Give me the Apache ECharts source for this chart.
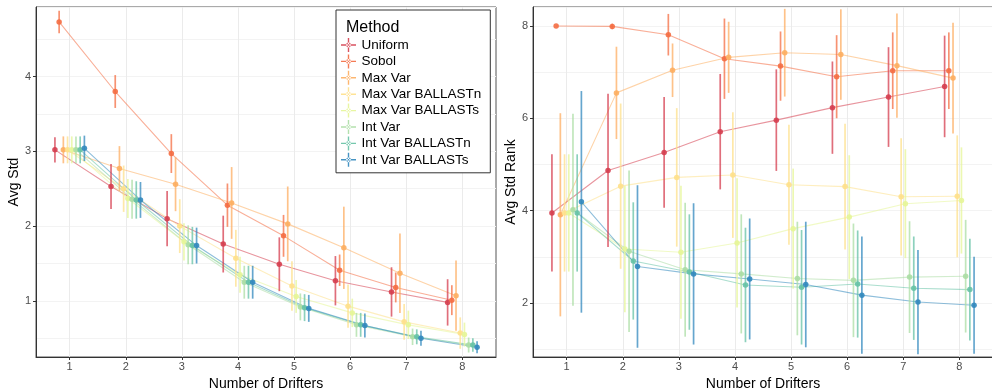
<!DOCTYPE html>
<html>
<head>
<meta charset="utf-8">
<script src="https://cdn.jsdelivr.net/npm/echarts@6/dist/echarts.min.js"></script>
<style>
  html, body { margin: 0; padding: 0; background: #fff; }
  #chart { width: 992px; height: 390px; }
</style>
</head>
<body>
<div id="chart"></div>
<script>
const drifters = [1, 2, 3, 4, 5, 6, 7, 8];
const methods = ['Uniform', 'Sobol', 'Max Var', 'Max Var BALLASTn', 'Max Var BALLASTs',
  'Int Var', 'Int Var BALLASTn', 'Int Var BALLASTs'];

// left panel: mean of Avg Std and half-length of the error bar, one row per method
const avgStd = [
  [3.02, 2.53, 2.10, 1.76, 1.49, 1.27, 1.12, 0.98],
  [4.73, 3.80, 2.97, 2.28, 1.87, 1.41, 1.18, 1.01],
  [3.02, 2.77, 2.56, 2.31, 2.03, 1.71, 1.37, 1.07],
  [3.02, 2.50, 2.00, 1.57, 1.20, 0.93, 0.72, 0.57],
  [3.02, 2.37, 1.79, 1.35, 1.06, 0.84, 0.68, 0.55],
  [3.02, 2.36, 1.75, 1.25, 0.92, 0.68, 0.52, 0.41],
  [3.02, 2.35, 1.74, 1.25, 0.91, 0.68, 0.52, 0.41],
  [3.04, 2.35, 1.74, 1.25, 0.90, 0.67, 0.50, 0.38]
];
const avgStdErr = [
  [0.17, 0.30, 0.37, 0.38, 0.36, 0.33, 0.33, 0.31],
  [0.15, 0.22, 0.26, 0.29, 0.28, 0.21, 0.20, 0.20],
  [0.18, 0.30, 0.36, 0.48, 0.50, 0.55, 0.53, 0.47],
  [0.18, 0.31, 0.36, 0.38, 0.33, 0.29, 0.24, 0.21],
  [0.18, 0.26, 0.25, 0.24, 0.22, 0.19, 0.19, 0.16],
  [0.18, 0.26, 0.26, 0.22, 0.18, 0.16, 0.11, 0.10],
  [0.18, 0.25, 0.25, 0.22, 0.18, 0.16, 0.10, 0.09],
  [0.17, 0.24, 0.24, 0.22, 0.18, 0.16, 0.10, 0.08]
];

// right panel: mean of Avg Std Rank and half-length of the error bar
const avgRank = [
  [3.95, 4.87, 5.26, 5.71, 5.96, 6.23, 6.46, 6.69],
  [8.00, 7.99, 7.81, 7.29, 7.13, 6.90, 7.03, 7.03],
  [3.91, 6.55, 7.04, 7.32, 7.42, 7.38, 7.14, 6.87],
  [3.95, 4.53, 4.72, 4.77, 4.56, 4.52, 4.30, 4.31],
  [3.95, 3.17, 3.10, 3.30, 3.61, 3.86, 4.15, 4.22],
  [4.02, 3.12, 2.72, 2.63, 2.53, 2.49, 2.56, 2.58],
  [3.95, 2.91, 2.67, 2.39, 2.34, 2.41, 2.32, 2.29],
  [4.19, 2.79, 2.63, 2.52, 2.40, 2.17, 2.02, 1.95]
];
const avgRankErr = [
  [1.27, 1.66, 1.20, 1.25, 1.10, 1.00, 1.08, 1.10],
  [0.00, 0.06, 0.45, 0.87, 0.75, 0.90, 0.83, 0.83],
  [2.20, 1.00, 0.58, 0.77, 0.95, 0.98, 1.13, 1.20],
  [1.27, 1.79, 1.50, 1.36, 1.30, 1.36, 1.27, 1.32],
  [1.27, 1.37, 1.44, 1.40, 1.30, 1.34, 1.18, 1.15],
  [2.08, 1.75, 1.45, 1.29, 1.23, 1.23, 1.21, 1.22],
  [1.27, 1.27, 1.25, 1.24, 1.24, 1.16, 1.12, 1.10],
  [2.40, 1.76, 1.53, 1.31, 1.36, 1.27, 1.13, 1.05]
];

const stdTicks = [1, 2, 3, 4];
const rankTicks = [2, 4, 6, 8];

const palette = ['#D53E4F', '#F46D43', '#FDAE61', '#FEE08B', '#E6F598', '#ABDDA4', '#66C2A5', '#3288BD'];
const font = "'Liberation Sans', Arial, Helvetica, sans-serif";

function rgba(hex, a) {
  const n = parseInt(hex.slice(1), 16);
  return 'rgba(' + (n >> 16) + ',' + ((n >> 8) & 255) + ',' + (n & 255) + ',' + a + ')';
}

// dodge offset of each method around the integer x position
function dodge(i) {
  return (i - 3.5) * 0.075;
}

function renderBar(params, api) {
  const lo = api.coord([api.value(0), api.value(1)]);
  const hi = api.coord([api.value(0), api.value(2)]);
  return {
    type: 'line',
    shape: { x1: lo[0], y1: lo[1], x2: hi[0], y2: hi[1] },
    style: { stroke: api.visual('color'), lineWidth: 1.7 }
  };
}

const series = [];
function addPanel(panel, means, errs) {
  methods.forEach((m, i) => {
    const c = palette[i];
    const pts = drifters.map((d, j) => [d + dodge(i), means[i][j]]);
    series.push({
      name: m + ' line', type: 'line', xAxisIndex: panel, yAxisIndex: panel * 2,
      data: pts, symbol: 'none',
      lineStyle: { color: rgba(c, 0.55), width: 1.1 }, z: 1, silent: true, animation: false
    });
    series.push({
      name: m + ' bar', type: 'custom', xAxisIndex: panel, yAxisIndex: panel * 2,
      data: drifters.map((d, j) => [d + dodge(i), means[i][j] - errs[i][j], means[i][j] + errs[i][j]]),
      encode: { x: 0, y: [1, 2] }, renderItem: renderBar, clip: true,
      itemStyle: { color: rgba(c, 0.75) }, z: 2, silent: true, animation: false
    });
    series.push({
      name: m, type: 'scatter', xAxisIndex: panel, yAxisIndex: panel * 2,
      data: pts, symbolSize: 5.5, itemStyle: { color: c, opacity: 0.9 },
      z: 3, silent: true, animation: false
    });
  });
}
addPanel(0, avgStd, avgStdErr);
addPanel(1, avgRank, avgRankErr);

function xAxisFor(grid) {
  return {
    type: 'value', gridIndex: grid, min: 0.4, max: 8.6,
    name: 'Number of Drifters', nameLocation: 'middle', nameGap: 16,
    nameTextStyle: { fontSize: 14, color: '#000', fontFamily: font },
    axisLine: { show: true, onZero: false, lineStyle: { color: '#333', width: 1 } },
    axisTick: { show: true, customValues: drifters, length: 3, lineStyle: { color: '#333' } },
    axisLabel: { customValues: drifters, fontSize: 11, color: '#4d4d4d', margin: 4, fontFamily: font },
    splitLine: { show: true, lineStyle: { color: '#ebebeb', width: 1 } }
  };
}

function yAxisFor(grid, min, max, ticks, name, gap) {
  return {
    type: 'value', gridIndex: grid, min: min, max: max,
    name: name, nameLocation: 'middle', nameGap: gap,
    nameTextStyle: { fontSize: 14, color: '#000', fontFamily: font },
    axisLine: { show: true, onZero: false, lineStyle: { color: '#333', width: 1 } },
    axisTick: { show: true, customValues: ticks, length: 3, lineStyle: { color: '#333' } },
    axisLabel: { customValues: ticks, fontSize: 11, color: '#4d4d4d', margin: 5, fontFamily: font },
    splitLine: { show: true, lineStyle: { color: '#ebebeb', width: 1 } }
  };
}

// second axis on each grid only draws the minor grid lines
function minorAxisFor(grid, min, max, splitNumber) {
  return {
    type: 'value', gridIndex: grid, min: min, max: max, splitNumber: splitNumber,
    position: 'left', axisLine: { show: false }, axisTick: { show: false },
    axisLabel: { show: false },
    splitLine: { show: true, lineStyle: { color: '#f3f3f3', width: 1 } }
  };
}

const legendIcon = 'path://M7.3,0H8.7V14H7.3Z M0.5,6.3H15.5V7.7H0.5Z M5.6,7A2.4,2.4,0,1,0,10.4,7A2.4,2.4,0,1,0,5.6,7Z';

const chart = echarts.init(document.getElementById('chart'), null, { renderer: 'canvas' });
chart.setOption({
  animation: false,
  backgroundColor: '#fff',
  textStyle: { fontFamily: font },
  grid: [
    { left: 36, top: 7, width: 460, height: 350, outerBoundsMode: 'none', containLabel: false,
      show: true, borderColor: '#555', borderWidth: 1, backgroundColor: 'transparent' },
    { left: 533, top: 7, width: 460, height: 350, outerBoundsMode: 'none', containLabel: false,
      show: true, borderColor: '#555', borderWidth: 1, backgroundColor: 'transparent' }
  ],
  xAxis: [xAxisFor(0), xAxisFor(1)],
  yAxis: [
    yAxisFor(0, 0.25, 4.93, stdTicks, 'Avg Std', 14),
    minorAxisFor(0, 0.25, 4.93, 9),
    yAxisFor(1, 0.83, 8.41, rankTicks, 'Avg Std Rank', 13),
    minorAxisFor(1, 0.83, 8.41, 8)
  ],
  title: {
    text: 'Method', left: 341, top: 15, z: 11,
    textStyle: { fontSize: 16, fontWeight: 'normal', color: '#000', fontFamily: font }
  },
  legend: {
    data: methods.map(m => ({ name: m, icon: legendIcon })),
    orient: 'vertical', left: 336, top: 10, z: 10,
    padding: [28, 9, 6, 5], itemWidth: 16, itemHeight: 14, itemGap: 2.4,
    backgroundColor: '#fff', borderColor: '#333', borderWidth: 1, borderRadius: 0,
    textStyle: { fontSize: 13.5, color: '#000', fontFamily: font },
    selectedMode: false
  },
  series: series
});
</script>
</body>
</html>
